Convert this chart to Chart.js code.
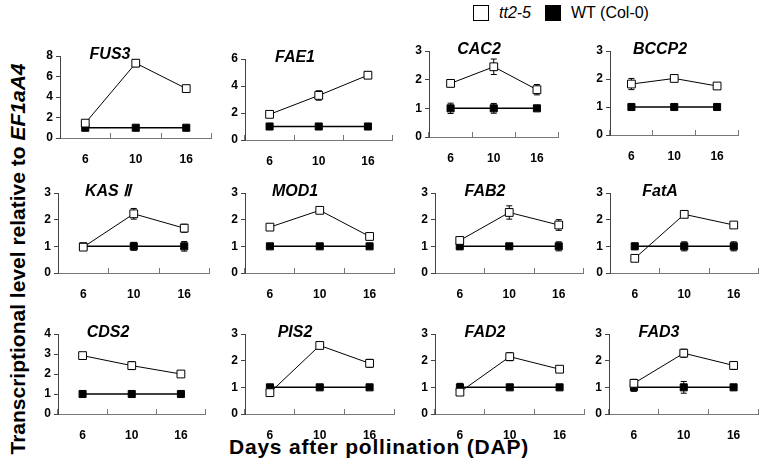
<!DOCTYPE html>
<html>
<head>
<meta charset="utf-8">
<title>Transcriptional level relative to EF1aA4</title>
<script src="https://cdn.jsdelivr.net/npm/chart.js@4.4.1/dist/chart.umd.min.js"></script>
<style>
  body {
    margin: 0;
    width: 765px;
    height: 469px;
    position: relative;
    overflow: hidden;
    background: #fff;
    font-family: Arial, "Liberation Sans", sans-serif;
  }
  canvas { position: absolute; }
  #y-title {
    position: absolute;
    left: 18px;
    top: 259px;
    transform: translate(-50%, -50%) rotate(-90deg);
    white-space: nowrap;
    font-weight: bold;
    font-size: 21px;
  }
  #x-title {
    position: absolute;
    left: 379px;
    top: 447px;
    transform: translate(-50%, -50%);
    white-space: nowrap;
    font-weight: bold;
    font-size: 21px;
    letter-spacing: 0.8px;
  }
  #legend {
    position: absolute;
    left: 473px;
    top: 4px;
    font-size: 16px;
    display: flex;
    align-items: center;
  }
  #legend .box {
    width: 14px;
    height: 14px;
    border: 1px solid #000;
    margin-right: 10px;
  }
</style>
</head>
<body>
<div id="legend">
  <span class="box" style="background:#fff"></span><i>tt2-5</i>
  <span class="box" style="background:#000;margin-left:14px"></span>WT (Col-0)
</div>
<div id="y-title">Transcriptional level relative to <i>EF1aA4</i></div>
<div id="x-title">Days after pollination (DAP)</div>

<script>
// ----- Data -----

const days = ["6", "10", "16"];

const genes = ["FUS3", "FAE1", "CAC2", "BCCP2",
               "KAS \u2161", "MOD1", "FAB2", "FatA",
               "CDS2", "PIS2", "FAD2", "FAD3"];

// y axis range for each panel
const yMax  = [8, 6, 3, 3, 3, 3, 3, 3, 4, 3, 3, 3];
const yStep = [2, 2, 1, 1, 1, 1, 1, 1, 1, 1, 1, 1];

// tt2-5 mean and error per panel (6, 10, 16 DAP)
const tt2Values = [
  [1.45, 7.3, 4.82],
  [1.9, 3.3, 4.8],
  [1.87, 2.45, 1.65],
  [1.82, 2.02, 1.75],
  [0.97, 2.22, 1.68],
  [1.72, 2.35, 1.37],
  [1.22, 2.27, 1.8],
  [0.55, 2.2, 1.8],
  [2.92, 2.42, 2.0],
  [0.8, 2.57, 1.9],
  [0.82, 2.15, 1.68],
  [1.15, 2.28, 1.82],
];
const tt2Errors = [
  [0.15, 0.35, 0.15],
  [0.15, 0.35, 0.25],
  [0.12, 0.27, 0.18],
  [0.2, 0.07, 0.05],
  [0.08, 0.2, 0.15],
  [0.05, 0.05, 0.12],
  [0.1, 0.25, 0.2],
  [0.1, 0.12, 0.05],
  [0.1, 0.2, 0.08],
  [0.1, 0.07, 0.15],
  [0.12, 0.15, 0.1],
  [0.15, 0.15, 0.15],
];

// WT (Col-0) mean and error
const wtValues = [
  [1, 1, 1], [1, 1, 1], [1, 1, 1], [1, 1, 1],
  [1, 1, 1], [1, 1, 1], [1, 1, 1], [1, 1, 1],
  [1, 1, 1], [1, 1, 1], [1, 1, 1], [1, 1, 1],
];
const wtErrors = [
  [0.05, 0.05, 0.05],
  [0.05, 0.05, 0.05],
  [0.18, 0.17, 0.05],
  [0.05, 0.05, 0.05],
  [0.05, 0.15, 0.18],
  [0.05, 0.05, 0.05],
  [0.1, 0.05, 0.17],
  [0.12, 0.17, 0.17],
  [0.08, 0.08, 0.05],
  [0.1, 0.05, 0.03],
  [0.15, 0.05, 0.05],
  [0.15, 0.22, 0.05],
];

// ----- Layout: plot area of each panel [left, right, top, bottom] -----

const panelBoxes = [
  [60, 216, 56, 138], [245, 397, 59, 140], [429, 563, 51, 137], [610, 743, 51, 135],
  [58, 214, 193, 273], [245, 399, 193, 273], [435, 588, 193, 273], [610, 763, 193, 273],
  [58, 210, 334, 414], [245, 399, 334, 414], [435, 589, 334, 414], [609, 763, 334, 414],
];

const TITLE_PAD = 22;
const Y_AXIS_W = 32;
const X_AXIS_H = 32;
const RIGHT_PAD = 2;

const tickFont = { family: "'Liberation Sans Narrow', 'Arial Narrow', Arial", size: 12, weight: "bold" };

// ----- Plugins -----

// vertical error bars with caps, drawn under the lines and markers
const errorBars = {
  id: "errorBars",
  beforeDatasetsDraw(chart) {
    const { ctx } = chart;
    const yScale = chart.scales.y;
    ctx.save();
    ctx.strokeStyle = "#000";
    ctx.lineWidth = 1;
    chart.data.datasets.forEach((ds, di) => {
      const meta = chart.getDatasetMeta(di);
      meta.data.forEach((pt, i) => {
        const err = ds.errors[i];
        const yTop = yScale.getPixelForValue(ds.data[i] + err);
        const yBot = yScale.getPixelForValue(ds.data[i] - err);
        ctx.beginPath();
        ctx.moveTo(pt.x, yTop);
        ctx.lineTo(pt.x, yBot);
        ctx.moveTo(pt.x - 3, yTop);
        ctx.lineTo(pt.x + 3, yTop);
        ctx.moveTo(pt.x - 3, yBot);
        ctx.lineTo(pt.x + 3, yBot);
        ctx.stroke();
      });
    });
    ctx.restore();
  }
};

// gene name in bold italic, sitting at the top of the plot area
const panelTitle = {
  id: "panelTitle",
  afterDraw(chart, args, opts) {
    const { ctx, chartArea } = chart;
    ctx.save();
    ctx.font = "italic bold 16px Arial, 'Liberation Sans'";
    ctx.fillStyle = "#000";
    ctx.textAlign = "center";
    ctx.textBaseline = "middle";
    ctx.fillText(opts.text, chartArea.left + 50, chartArea.top - 1);
    ctx.restore();
  }
};

// ----- Build the panels -----

genes.forEach((gene, i) => {
  const [L, R, T, B] = panelBoxes[i];
  const canvas = document.createElement("canvas");
  canvas.width = R - L + Y_AXIS_W + RIGHT_PAD;
  canvas.height = B - T + TITLE_PAD + X_AXIS_H;
  canvas.style.left = (L - Y_AXIS_W) + "px";
  canvas.style.top = (T - TITLE_PAD) + "px";
  document.body.appendChild(canvas);

  new Chart(canvas, {
    type: "line",
    data: {
      labels: days,
      datasets: [
        {
          label: "tt2-5",
          data: tt2Values[i],
          errors: tt2Errors[i],
          borderColor: "#000",
          borderWidth: 1,
          pointStyle: "rect",
          pointRadius: 5.5,
          pointBackgroundColor: "#fff",
          pointBorderColor: "#000",
          pointBorderWidth: 1,
        },
        {
          label: "WT (Col-0)",
          data: wtValues[i],
          errors: wtErrors[i],
          borderColor: "#000",
          borderWidth: 1.5,
          pointStyle: "rect",
          pointRadius: 5,
          pointBackgroundColor: "#000",
          pointBorderColor: "#000",
          pointBorderWidth: 1,
        },
      ],
    },
    options: {
      responsive: false,
      animation: false,
      layout: { padding: { top: TITLE_PAD, right: RIGHT_PAD, left: 0, bottom: 0 } },
      plugins: {
        legend: { display: false },
        tooltip: { enabled: false },
        panelTitle: { text: gene },
      },
      scales: {
        x: {
          offset: true,
          grid: { offset: true, drawOnChartArea: false, tickLength: -5, color: "#777" },
          border: { color: "#777", width: 1 },
          ticks: { font: tickFont, color: "#000", padding: 19, maxRotation: 0 },
          afterFit: (s) => { s.height = X_AXIS_H; },
        },
        y: {
          min: 0,
          max: yMax[i],
          grid: { drawOnChartArea: false, tickLength: 4, color: "#444" },
          border: { color: "#444", width: 1 },
          ticks: { stepSize: yStep[i], font: tickFont, color: "#000", padding: 3 },
          afterFit: (s) => { s.width = Y_AXIS_W; },
        },
      },
    },
    plugins: [errorBars, panelTitle],
  });
});
</script>
</body>
</html>
